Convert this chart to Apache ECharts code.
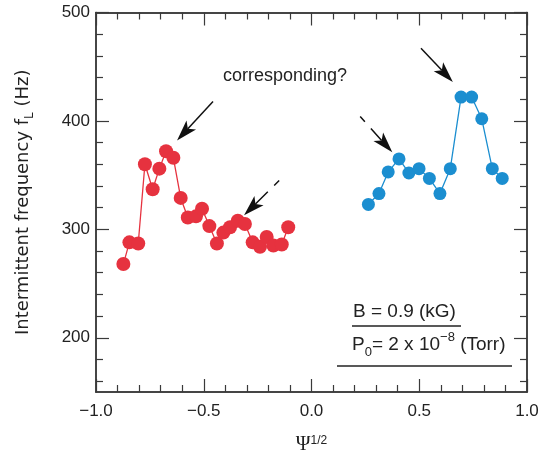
<!DOCTYPE html>
<html>
<head>
<meta charset="utf-8">
<script src="https://cdn.jsdelivr.net/npm/echarts@6/dist/echarts.min.js"></script>
<style>
  html, body { margin: 0; padding: 0; background: #fff; }
  #main { width: 540px; height: 459px; }
</style>
</head>
<body>
<div id="main"></div>
<script>
// values
var redX = [-0.873, -0.845, -0.804, -0.773, -0.737, -0.706, -0.675, -0.641, -0.607, -0.574, -0.536, -0.508,
            -0.474, -0.439, -0.409, -0.378, -0.342, -0.309, -0.273, -0.239, -0.208, -0.177, -0.138, -0.108];
var redY = [268, 288, 287, 360, 337, 356, 372, 366, 329, 311, 312, 319,
            303, 287, 297, 302, 308, 305, 288, 284, 293, 285, 286, 302];
var blueX = [0.264, 0.313, 0.356, 0.406, 0.452, 0.499, 0.547, 0.596, 0.644, 0.694, 0.743, 0.790, 0.839, 0.885];
var blueY = [323, 333, 353, 365, 352, 356, 347, 333, 356, 422, 422, 402, 356, 347];

var xMajorTicks = [-1, -0.5, 0, 0.5, 1];
var xMinorTicks = [-0.9, -0.8, -0.7, -0.6, -0.4, -0.3, -0.2, -0.1, 0.1, 0.2, 0.3, 0.4, 0.6, 0.7, 0.8, 0.9];
var yMajorTicks = [200, 300, 400, 500];
var yMinorTicks = [160, 180, 220, 240, 260, 280, 320, 340, 360, 380, 420, 440, 460, 480];

// arrows in data units: [x start, y start, x tip, y tip, dashed]
var arrows = [
  [-0.457, 418, -0.624, 382, false],
  [-0.150, 345, -0.313, 313, true],
  [0.226, 404, 0.375, 371, true],
  [0.508, 467, 0.656, 436, false]
];

var RED = "#e6323f";
var BLUE = "#1b8ed0";
var INK = "#222";
var AXIS = "#3a3a3a";

function zip(xs, ys) {
  return xs.map(function (x, i) { return [x, ys[i]]; });
}

function fmtX(v) {
  if (Math.abs(v) < 1e-9) return "0.0";
  return (v < 0 ? "\u2212" : "") + Math.abs(v).toFixed(1);
}

// one axis = one set of inward ticks; majors and minors are stacked on the same side
function xAx(pos, ticks, len, main) {
  return {
    type: "value", position: pos, min: -1, max: 1,
    axisLine: { show: true, onZero: false, lineStyle: { color: AXIS, width: 1.5 } },
    axisTick: { show: true, inside: true, length: len, customValues: ticks, lineStyle: { color: AXIS, width: 1.2 } },
    axisLabel: main ? {
      show: true, customValues: ticks, formatter: fmtX, margin: 11,
      fontFamily: "Liberation Sans", fontSize: 17, color: INK
    } : { show: false },
    splitLine: { show: false }
  };
}

function yAx(pos, ticks, len, main) {
  return {
    type: "value", position: pos, min: 150, max: 500,
    axisLine: { show: true, onZero: false, lineStyle: { color: AXIS, width: 1.5 } },
    axisTick: { show: true, inside: true, length: len, customValues: ticks, lineStyle: { color: AXIS, width: 1.2 } },
    axisLabel: main ? {
      show: true, customValues: ticks, margin: 6,
      fontFamily: "Liberation Sans", fontSize: 17, color: INK
    } : { show: false },
    splitLine: { show: false }
  };
}

var chart = echarts.init(document.getElementById("main"));

var xMain = xAx("bottom", xMajorTicks, 13, true);
xMain.name = "\u03a8{sup|1/2}";
xMain.nameLocation = "middle";
xMain.nameGap = 43;
xMain.nameTextStyle = {
  fontFamily: "Liberation Serif", fontSize: 20, color: INK, lineHeight: 20,
  rich: { sup: { fontFamily: "Liberation Sans", fontSize: 12, color: INK, verticalAlign: "top" } }
};

var yMain = yAx("left", yMajorTicks, 13, true);
yMain.name = "Intermittent frequency f{sub|L} (Hz)";
yMain.nameLocation = "middle";
yMain.nameGap = 60;
yMain.nameTextStyle = {
  fontFamily: "DejaVu Sans", fontSize: 18, color: INK, lineHeight: 26,
  rich: { sub: { fontFamily: "DejaVu Sans", fontSize: 12, color: INK, verticalAlign: "bottom" } }
};

var option = {
  animation: false,
  backgroundColor: "#fff",
  grid: { left: 96, right: 13, top: 12.5, bottom: 67, containLabel: false, outerBoundsMode: "none" },
  xAxis: [
    xMain,
    xAx("bottom", xMinorTicks, 7, false),
    xAx("top", xMajorTicks, 13, false),
    xAx("top", xMinorTicks, 7, false)
  ],
  yAxis: [
    yMain,
    yAx("left", yMinorTicks, 7, false),
    yAx("right", yMajorTicks, 13, false),
    yAx("right", yMinorTicks, 7, false)
  ],
  series: [
    {
      name: "red", type: "line", xAxisIndex: 0, yAxisIndex: 0,
      data: zip(redX, redY),
      symbol: "circle", symbolSize: 14,
      lineStyle: { color: RED, width: 1.3 },
      itemStyle: { color: RED }
    },
    {
      name: "blue", type: "line", xAxisIndex: 0, yAxisIndex: 0,
      data: zip(blueX, blueY),
      symbol: "circle", symbolSize: 13,
      lineStyle: { color: BLUE, width: 1.3 },
      itemStyle: { color: BLUE }
    }
  ]
};

chart.setOption(option);

// arrows and annotation text
var g = [];
arrows.forEach(function (a) {
  var p1 = chart.convertToPixel({ seriesIndex: 0 }, [a[0], a[1]]);
  var p2 = chart.convertToPixel({ seriesIndex: 0 }, [a[2], a[3]]);
  var dx = p2[0] - p1[0], dy = p2[1] - p1[1];
  var L = Math.sqrt(dx * dx + dy * dy);
  var ux = dx / L, uy = dy / L;
  var px = -uy, py = ux;
  var head = 21, hw = 6.5, notch = 16;
  var bx = p2[0] - ux * head, by = p2[1] - uy * head;
  g.push({
    type: "line", silent: true,
    shape: { x1: p1[0], y1: p1[1], x2: p2[0] - ux * notch, y2: p2[1] - uy * notch },
    style: { stroke: "#111", lineWidth: 1.5, lineDash: a[4] ? [7, 9, 200] : null }
  });
  g.push({
    type: "polygon", silent: true,
    shape: { points: [
      [p2[0], p2[1]],
      [bx + px * hw, by + py * hw],
      [p2[0] - ux * notch, p2[1] - uy * notch],
      [bx - px * hw, by - py * hw]
    ] },
    style: { fill: "#111" }
  });
});

g.push({
  type: "text", x: 223, y: 76, silent: true,
  style: { text: "corresponding?", fontFamily: "Liberation Sans", fontSize: 18, fill: INK, verticalAlign: "middle" }
});
g.push({
  type: "text", x: 353, y: 312, silent: true,
  style: { text: "B = 0.9 (kG)", fontFamily: "Liberation Sans", fontSize: 19, fill: INK, verticalAlign: "middle" }
});
g.push({
  type: "line", silent: true,
  shape: { x1: 352, y1: 326, x2: 461, y2: 326 },
  style: { stroke: INK, lineWidth: 1.3 }
});
g.push({
  type: "text", x: 352, y: 345, silent: true,
  style: {
    text: "P{sub|0}= 2 x 10{sup|\u22128} (Torr)",
    fontFamily: "Liberation Sans", fontSize: 19, fill: INK, lineHeight: 28, verticalAlign: "middle",
    rich: {
      sub: { fontFamily: "Liberation Sans", fontSize: 13, fill: INK, verticalAlign: "bottom" },
      sup: { fontFamily: "Liberation Sans", fontSize: 13, fill: INK, verticalAlign: "top" }
    }
  }
});
g.push({
  type: "line", silent: true,
  shape: { x1: 337, y1: 366, x2: 512, y2: 366 },
  style: { stroke: INK, lineWidth: 1.3 }
});

chart.setOption({ graphic: g });

window.addEventListener("resize", function () {
  chart.resize();
});
</script>
</body>
</html>
